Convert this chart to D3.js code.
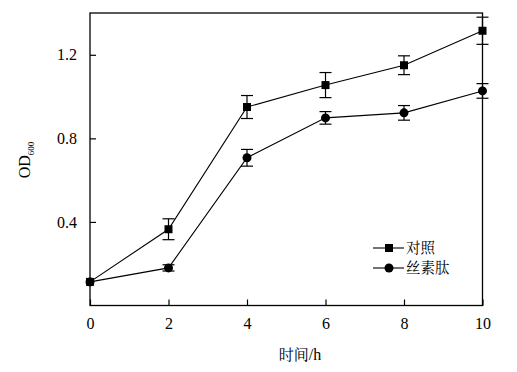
<!DOCTYPE html>
<html><head><meta charset="utf-8">
<script src="https://cdn.jsdelivr.net/npm/d3@7"></script>
<style>body{margin:0;background:#fff}svg{display:block}</style>
</head><body>
<svg id="c" width="517" height="372"></svg>
<script>
const times = [0, 2, 4, 6, 8, 10];
const controlValues = [0.113, 0.365, 0.950, 1.055, 1.150, 1.315];
const controlErrors = [0.01, 0.05, 0.055, 0.06, 0.045, 0.065];
const peptideValues = [0.113, 0.180, 0.707, 0.898, 0.922, 1.027];
const peptideErrors = [0.01, 0.015, 0.04, 0.03, 0.035, 0.035];
const xTicks = [0, 2, 4, 6, 8, 10];
const yTicks = [0.4, 0.8, 1.2];
const seriesNames = ["对照", "丝素肽"];

const svg = d3.select("#c");
const L = 90, R = 482.5, T = 13, B = 305.5;
const x = d3.scaleLinear().domain([0, 10]).range([L, R]);
const y = d3.scaleLinear().domain([0, 1.4]).range([B, T]);
const serif = "'Liberation Serif','Times New Roman',serif";
const cjk = "'Noto Serif CJK SC','Noto Sans CJK SC',serif";

// frame
svg.append("rect").attr("x", L).attr("y", T).attr("width", R - L).attr("height", B - T)
  .attr("fill", "none").attr("stroke", "#000").attr("stroke-width", 1.3);

const xa = svg.append("g").attr("transform", `translate(0,${B})`)
  .call(d3.axisBottom(x).tickValues(xTicks).tickSize(-6).tickPadding(12).tickFormat(d3.format("d")));
const ya = svg.append("g").attr("transform", `translate(${L},0)`)
  .call(d3.axisLeft(y).tickValues(yTicks).tickSize(-6).tickPadding(13).tickFormat(d3.format(".1f")));
[xa, ya].forEach(a => {
  a.select(".domain").remove();
  a.selectAll("line").attr("stroke", "#000").attr("stroke-width", 1.2);
  a.selectAll("text").attr("font-family", serif).attr("font-size", 16).attr("fill", "#000");
});

const series = [
  {name: seriesNames[0], v: controlValues, e: controlErrors, shape: "square"},
  {name: seriesNames[1], v: peptideValues, e: peptideErrors, shape: "circle"}
];
const line = d3.line().x(d => x(d[0])).y(d => y(d[1]));

function marker(g, cx, cy, shape) {
  if (shape === "square") g.append("rect").attr("x", cx - 4).attr("y", cy - 4).attr("width", 8).attr("height", 8).attr("fill", "#000");
  else g.append("circle").attr("cx", cx).attr("cy", cy).attr("r", 4.5).attr("fill", "#000");
}

series.forEach(s => {
  const pts = times.map((t, i) => [t, s.v[i], s.e[i]]);
  const g = svg.append("g");
  g.append("path").attr("d", line(pts)).attr("fill", "none").attr("stroke", "#000").attr("stroke-width", 1.1);
  pts.forEach(p => {
    if (p[0] === 0) return;
    const cx = x(p[0]), y1 = y(p[1] + p[2]), y2 = y(p[1] - p[2]);
    g.append("line").attr("x1", cx).attr("x2", cx).attr("y1", y1).attr("y2", y2).attr("stroke", "#000").attr("stroke-width", 1.2);
    [y1, y2].forEach(yy => g.append("line").attr("x1", cx - 6).attr("x2", cx + 6).attr("y1", yy).attr("y2", yy).attr("stroke", "#000").attr("stroke-width", 1.2));
  });
  pts.forEach(p => marker(g, x(p[0]), y(p[1]), s.shape));
});

// legend
series.forEach((s, i) => {
  const ly = 248 + i * 20;
  const g = svg.append("g");
  g.append("line").attr("x1", 373).attr("x2", 404).attr("y1", ly).attr("y2", ly).attr("stroke", "#000").attr("stroke-width", 1.1);
  marker(g, 389, ly, s.shape);
  g.append("text").attr("x", 406).attr("y", ly + 5).attr("font-family", cjk).attr("font-size", 14.5).text(s.name);
});

// axis labels
svg.append("text").attr("x", 300).attr("y", 360).attr("text-anchor", "middle")
  .attr("font-family", cjk).attr("font-size", 15)
  .html('时间<tspan font-family="' + "Liberation Serif" + '" font-size="16">/h</tspan>');
const yl = svg.append("text").attr("transform", "translate(30,160) rotate(-90)").attr("text-anchor", "middle")
  .attr("font-family", serif).attr("font-size", 16);
yl.append("tspan").text("OD");
yl.append("tspan").attr("font-size", 9).attr("dy", 4).text("600");
</script>
</body></html>
